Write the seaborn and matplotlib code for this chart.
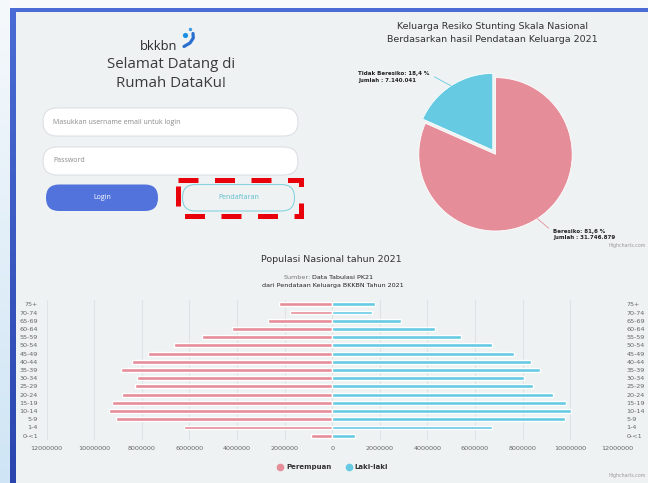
import numpy as np
import pandas as pd
import matplotlib
matplotlib.use("Agg")
import matplotlib.pyplot as plt
from matplotlib.patches import FancyBboxPatch, Rectangle, Circle
from matplotlib.lines import Line2D
from matplotlib.colors import LinearSegmentedColormap
import seaborn as sns

# data piramida penduduk
umur = ["75+", "70-74", "65-69", "60-64", "55-59", "50-54", "45-49", "40-44",
        "35-39", "30-34", "25-29", "20-24", "15-19", "10-14", "5-9", "1-4", "0-<1"]
perempuan = [2240000, 1760000, 2710000, 4230000, 5480000, 6670000, 7740000, 8400000,
             8880000, 8190000, 8290000, 8820000, 9250000, 9370000, 9090000, 6230000, 900000]
laki_laki = [1790000, 1680000, 2890000, 4320000, 5410000, 6710000, 7660000, 8360000,
             8720000, 8080000, 8430000, 9290000, 9810000, 10020000, 9770000, 6710000, 960000]
x_ticks = list(range(-12000000, 12000001, 2000000))

# data pie keluarga resiko stunting
status = ["Beresiko", "Tidak Beresiko"]
jumlah_keluarga = [31746879, 7140041]

PINK = "#e68d9a"
BIRU = "#66cae3"
CARD = "#eef2f3"
TEKS = "#333333"

W, H = 648, 483

sns.set_theme(style="white")
plt.rcParams["font.family"] = ["DejaVu Sans"]

fig = plt.figure(figsize=(W / 100, H / 100), dpi=100, facecolor="#f7f9fb")


def kotak(x0, y0, x1, y1):
    # ubah koordinat piksel (atas-kiri) ke koordinat figure
    return [x0 / W, 1 - y1 / H, (x1 - x0) / W, (y1 - y0) / H]


# latar belakang halaman
bg = fig.add_axes([0, 0, 1, 1])
bg.axis("off")
grad = np.linspace(0, 1, 200).reshape(-1, 1)
bg.imshow(grad, extent=(0, 10, H, 0), aspect="auto",
          cmap=LinearSegmentedColormap.from_list("kiri", ["#f6f9fc", "#cfe5f5"]))
bg.imshow(grad, extent=(10, 15.5, H, 8), aspect="auto",
          cmap=LinearSegmentedColormap.from_list("bingkai", ["#4a6cd4", "#2a45ae"]))
bg.add_patch(Rectangle((10, 8), W - 10, 3.5, color="#4a6cd4", lw=0))
bg.add_patch(Rectangle((15.5, 11.5), W, H, color=CARD, lw=0))
bg.set_xlim(0, W)
bg.set_ylim(H, 0)

# logo dan form login
bg.text(140, 49.5, "bkkbn", fontsize=9.3, color="#2b2b2b", family="Open Sans",
        ha="left", va="baseline")
bg.add_patch(Circle((190.5, 29.5), 1.7, color="#3a9be0", lw=0))
bg.add_patch(Circle((185.5, 35.5), 2.6, color="#1d8fe0", lw=0))
bg.plot([193, 193.3, 190, 184], [33.5, 38, 43, 46.5], lw=2.3, color="#2a6fd0",
        solid_capstyle="round")
bg.text(171, 64, "Selamat Datang di", fontsize=10.8, color="#3a3a3a",
        family="Open Sans", ha="center", va="center")
bg.text(171, 83.5, "Rumah DataKu!", fontsize=10.8, color="#3a3a3a",
        family="Open Sans", ha="center", va="center")

for y0, isi in [(108, "Masukkan username email untuk login"), (147, "Password")]:
    bg.add_patch(FancyBboxPatch((43, y0), 255, 28, boxstyle="round,pad=0,rounding_size=14",
                                fc="white", ec="#d9dde2", lw=0.7))
    bg.text(53, y0 + 14, isi, fontsize=5, color="#8a8a8a", family="Open Sans",
            ha="left", va="center")

bg.add_patch(FancyBboxPatch((46, 184.5), 112, 26.5, boxstyle="round,pad=0,rounding_size=13",
                            fc="#5273dc", ec="none"))
bg.text(102, 197.7, "Login", fontsize=5, color="white", family="Open Sans",
        ha="center", va="center")
bg.add_patch(FancyBboxPatch((182.5, 184.5), 112, 26.5, boxstyle="round,pad=0,rounding_size=13",
                            fc=CARD, ec="#86d3de", lw=0.8))
bg.text(238.5, 197.7, "Pendaftaran", fontsize=5, color="#5bbccc", family="Open Sans",
        ha="center", va="center")
bg.add_patch(Rectangle((178, 180.2), 122.8, 35.6, fill=False, ec="#e8000b",
                       lw=3.6, ls=(0, (4, 3.3))))

# judul grafik
bg.text(492.5, 26.7, "Keluarga Resiko Stunting Skala Nasional", fontsize=6.8,
        color=TEKS, ha="center", va="center")
bg.text(492.5, 39.3, "Berdasarkan hasil Pendataan Keluarga 2021", fontsize=6.8,
        color=TEKS, ha="center", va="center")
bg.text(331.5, 260, "Populasi Nasional tahun 2021", fontsize=6.8,
        color=TEKS, ha="center", va="center")
bg.text(310.5, 277.5, "Sumber:", fontsize=4.6, color="#777777", ha="right", va="center")
bg.text(312, 277.5, "Data Tabulasi PK21", fontsize=4.6, color="#222222", ha="left", va="center")
bg.text(332.8, 286, "dari Pendataan Keluarga BKKBN Tahun 2021", fontsize=4.6,
        color="#222222", ha="center", va="center")
bg.text(646, 245, "Highcharts.com", fontsize=3.4, color="#999999", ha="right", va="center")
bg.text(646, 476, "Highcharts.com", fontsize=3.4, color="#999999", ha="right", va="center")

# pie chart
cx, cy, r = 495.5, 154.3, 76.7
axp = fig.add_axes(kotak(cx - 1.25 * r, cy - 1.25 * r, cx + 1.25 * r, cy + 1.25 * r))
axp.patch.set_alpha(0)
explode = [0, 0.065]
axp.pie(jumlah_keluarga, colors=[PINK, BIRU], startangle=90, counterclock=False,
        explode=explode, wedgeprops=dict(edgecolor="white", lw=0.6))
axp.set_xlim(-1.25, 1.25)
axp.set_ylim(-1.25, 1.25)

total = sum(jumlah_keluarga)
sudut = 90
posisi_label = {"Beresiko": (553, 234.5, (0, 0.72), "left"),
                "Tidak Beresiko": (358.5, 77, (1, 0.72), "left")}
for nama, nilai, ex in zip(status, jumlah_keluarga, explode):
    frac = nilai / total
    tengah = np.deg2rad(sudut - frac * 180)
    sudut -= frac * 360
    jarak = 1 + ex
    xy = (jarak * np.cos(tengah), jarak * np.sin(tengah))
    persen = f"{frac * 100:.1f}".replace(".", ",")
    angka = f"{nilai:,}".replace(",", ".")
    lx, ly, rel, ha = posisi_label[nama]
    axp.annotate(f"{nama}: {persen} %\nJumlah : {angka}", xy=xy, xycoords="data",
                 xytext=(lx, ly), textcoords=bg.transData, ha=ha, va="center",
                 fontsize=4, fontweight="bold", color="#222222", linespacing=1.5,
                 arrowprops=dict(arrowstyle="-", color=PINK if nama == "Beresiko" else BIRU,
                                 lw=0.6, relpos=rel, shrinkA=1, shrinkB=0))

# piramida penduduk
ax = fig.add_axes(kotak(46.7, 300.2, 617.7, 439.8))
ax.patch.set_alpha(0)
df = pd.DataFrame({
    "umur": umur + umur,
    "jumlah": [-v for v in perempuan] + laki_laki,
    "jenis": ["Perempuan"] * len(umur) + ["Laki-laki"] * len(umur),
})
sns.barplot(data=df, x="jumlah", y="umur", hue="jenis", order=umur,
            hue_order=["Perempuan", "Laki-laki"], palette=[PINK, BIRU],
            dodge=False, width=0.48, orient="h", errorbar=None, legend=False,
            saturation=1, ax=ax, zorder=3)
ax.set_xlim(-12000000, 12000000)
ax.set_ylim(len(umur) - 0.5, -0.5)
ax.set_xticks(x_ticks)
ax.set_xticklabels([str(abs(t)) for t in x_ticks])
ax.grid(axis="x", color="#dde3e6", lw=0.8)
ax.set_axisbelow(True)
for s in ax.spines.values():
    s.set_visible(False)
ax.set_xlabel("")
ax.set_ylabel("")
ax.tick_params(axis="x", length=0, pad=4.5, labelsize=4.6, labelcolor="#666666")
ax.tick_params(axis="y", length=0, pad=6.3, labelsize=4.6, labelcolor="#666666",
               labelleft=True, labelright=True)

tanda = [Line2D([], [], ls="", marker="o", ms=4.5, color=c) for c in (PINK, BIRU)]
fig.legend(tanda, ["Perempuan", "Laki-laki"], loc="center", ncol=2,
           bbox_to_anchor=(333 / W, 1 - 467 / H), frameon=False,
           prop=dict(size=5, weight="bold"), labelcolor=TEKS,
           handlelength=0.8, handletextpad=0.4, columnspacing=2.2)

fig.savefig("out.png", dpi=100, facecolor=fig.get_facecolor())
